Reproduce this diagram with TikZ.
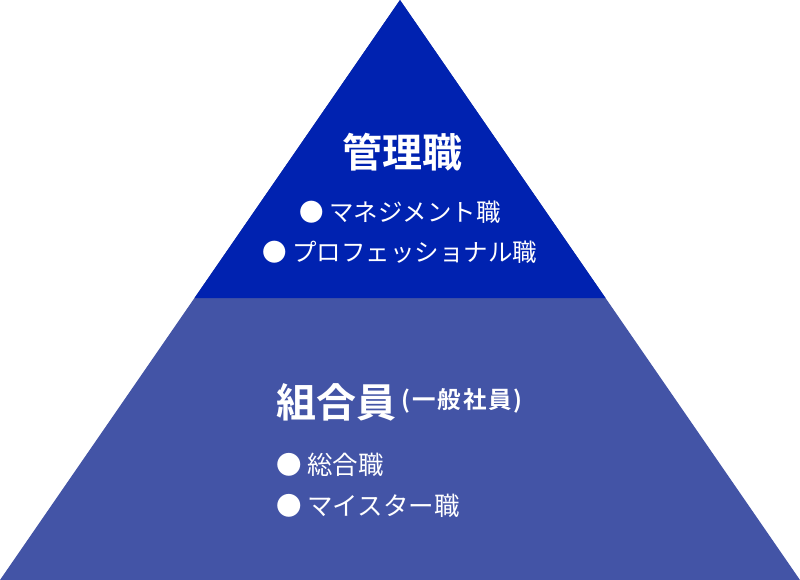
\documentclass[tikz,border=0pt]{standalone}
\usepackage{fontspec}
\newfontfamily\jp{Noto Sans CJK JP}
\newfontfamily\jpb{Noto Sans CJK JP Bold}
\newfontfamily\jpbs[LetterSpace=8]{Noto Sans CJK JP Bold}
\definecolor{topblue}{RGB}{0,34,176}
\definecolor{lowblue}{RGB}{67,84,166}
\begin{document}
\begin{tikzpicture}[x=1pt,y=-1pt,
  title/.style={text=white,inner sep=0pt,font=\jpb\fontsize{40}{42}\selectfont},
  sub/.style={text=white,inner sep=0pt,font=\jpbs\fontsize{23.5}{25}\selectfont},
  item/.style={text=white,inner sep=0pt,font=\jp\fontsize{24.5}{26}\selectfont},
  itemb/.style={text=white,inner sep=0pt,font=\jp\fontsize{25.5}{27}\selectfont}]
\useasboundingbox (0,0) rectangle (800,580);
\fill[lowblue] (0,580) -- (400,0) -- (800,580) -- cycle;
\fill[topblue] (400,0) -- (605.5,298) -- (194.5,298) -- cycle;
\node[title] (mgr) at (402,152) {管理職};
\node[item] (mg1) at (400,212) {● マネジメント職};
\node[item] (mg2) at (400,252) {● プロフェッショナル職};
\node[title,anchor=west] (mem) at (276,402) {組合員};
\node[sub,anchor=west] (memsub) at ([xshift=5pt,yshift=1pt]mem.east) {(一般社員)};
\node[itemb,anchor=west] (m1) at (276,465) {● 総合職};
\node[itemb,anchor=west] (m2) at (276,506) {● マイスター職};
\end{tikzpicture}
\end{document}
